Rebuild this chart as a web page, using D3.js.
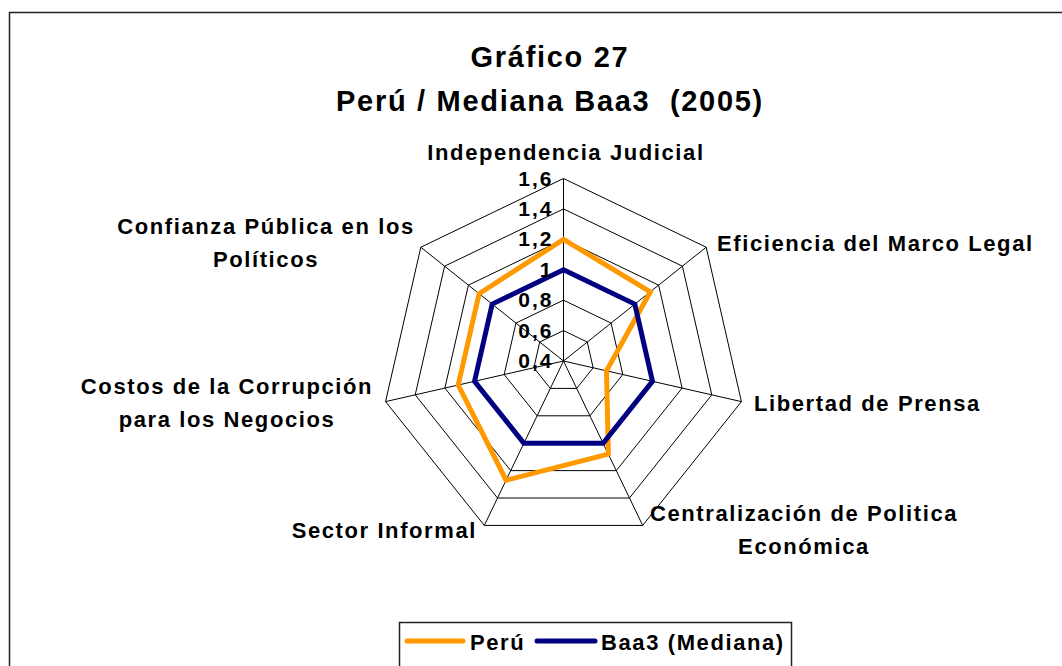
<!DOCTYPE html>
<html>
<head>
<meta charset="utf-8">
<script src="https://cdn.jsdelivr.net/npm/d3@7"></script>
<style>
  body { margin: 0; background: #fff; }
  svg { display: block; font-family: "Liberation Sans", Arial, sans-serif; font-weight: bold; }
</style>
</head>
<body>
<svg id="chart" width="1062" height="666"></svg>
<script>
// Data
const axes = [
    "Independencia Judicial",
    "Eficiencia del Marco Legal",
    "Libertad de Prensa",
    "Centralización de Politica Económica",
    "Sector Informal",
    "Costos de la Corrupción para los Negocios",
    "Confianza Pública en los Políticos"
];
const peru = [1.2, 1.13, 0.69, 1.08, 1.27, 1.11, 1.11];
const baa3 = [1, 1, 1, 1, 1, 1, 1];
const ticks = [0.4, 0.6, 0.8, 1, 1.2, 1.4, 1.6];
const seriesNames = ["Perú", "Baa3 (Mediana)"];
const seriesColors = ["#FF9900", "#000080"];

// Label layout (lines, anchor, position)
const labels = [
    { lines: ["Independencia Judicial"], x: 566, y: 160, anchor: "middle" },
    { lines: ["Eficiencia del Marco Legal"], x: 717, y: 251, anchor: "start" },
    { lines: ["Libertad de Prensa"], x: 754, y: 411, anchor: "start" },
    { lines: ["Centralización de Politica", "Económica"], x: 804, y: 521, anchor: "middle" },
    { lines: ["Sector Informal"], x: 477, y: 538, anchor: "end" },
    { lines: ["Costos de la Corrupción", "para los Negocios"], x: 227, y: 394, anchor: "middle" },
    { lines: ["Confianza Pública en los", "Políticos"], x: 266, y: 234, anchor: "middle" }
];

const svg = d3.select("#chart");
const cx = 563.5, cy = 361, R = 182.5;

// Outer chart frame
svg.append("rect")
    .attr("x", 9.5).attr("y", 12.5)
    .attr("width", 1100).attr("height", 700)
    .attr("fill", "none").attr("stroke", "#222").attr("stroke-width", 1.5);

// Title
const title = svg.append("text")
    .attr("text-anchor", "middle")
    .attr("xml:space", "preserve")
    .style("white-space", "pre")
    .style("font-size", "29px")
    .style("letter-spacing", "1.7px");
title.append("tspan").attr("x", 550).attr("y", 67).text("Gráfico 27");
title.append("tspan").attr("x", 550).attr("y", 111).text("Perú / Mediana Baa3  (2005)");

const r = d3.scaleLinear().domain([0.4, 1.6]).range([0, R]);
const angle = i => i * 2 * Math.PI / axes.length;
const pt = (i, v) => [cx + r(v) * Math.sin(angle(i)), cy - r(v) * Math.cos(angle(i))];

// Grid rings
const grid = svg.append("g").attr("fill", "none").attr("stroke", "#000").attr("stroke-width", 1);
ticks.slice(1).forEach(t => {
    grid.append("polygon")
        .attr("points", axes.map((_, i) => pt(i, t).join(",")).join(" "));
});
// Spokes
axes.forEach((_, i) => {
    const [x, y] = pt(i, 1.6);
    grid.append("line").attr("x1", cx).attr("y1", cy).attr("x2", x).attr("y2", y);
});

// Series
const line = d3.line().curve(d3.curveLinearClosed);
[peru, baa3].forEach((s, k) => {
    svg.append("path")
        .attr("d", line(s.map((v, i) => pt(i, v))))
        .attr("fill", "none")
        .attr("stroke", seriesColors[k])
        .attr("stroke-width", 5)
        .attr("stroke-linejoin", "miter");
});

// Tick labels
svg.append("g").selectAll("text")
    .data(ticks)
    .join("text")
    .attr("x", cx - 10)
    .attr("y", d => cy - r(d) + 7)
    .attr("text-anchor", "end")
    .style("font-size", "21px")
    .style("letter-spacing", "2px")
    .text(d => String(d).replace(".", ","));

// Axis labels
labels.forEach(l => {
    const t = svg.append("text")
        .attr("text-anchor", l.anchor)
        .style("font-size", "22px")
        .style("letter-spacing", "1.6px");
    l.lines.forEach((s, j) => {
        t.append("tspan").attr("x", l.x).attr("y", l.y + j * 33).text(s);
    });
});

// Legend
const lg = svg.append("g");
lg.append("rect")
    .attr("x", 399.5).attr("y", 622.5)
    .attr("width", 392).attr("height", 60)
    .attr("fill", "#fff").attr("stroke", "#222").attr("stroke-width", 1.5);
const legendItems = [
    { x1: 407, x2: 463, tx: 470 },
    { x1: 537, x2: 595, tx: 601 }
];
legendItems.forEach((it, k) => {
    lg.append("line")
        .attr("x1", it.x1).attr("x2", it.x2)
        .attr("y1", 641).attr("y2", 641)
        .attr("stroke", seriesColors[k]).attr("stroke-width", 5)
        .attr("stroke-linecap", "round");
    lg.append("text")
        .attr("x", it.tx).attr("y", 650)
        .style("font-size", "22px")
        .style("letter-spacing", "1.6px")
        .text(seriesNames[k]);
});
</script>
</body>
</html>
